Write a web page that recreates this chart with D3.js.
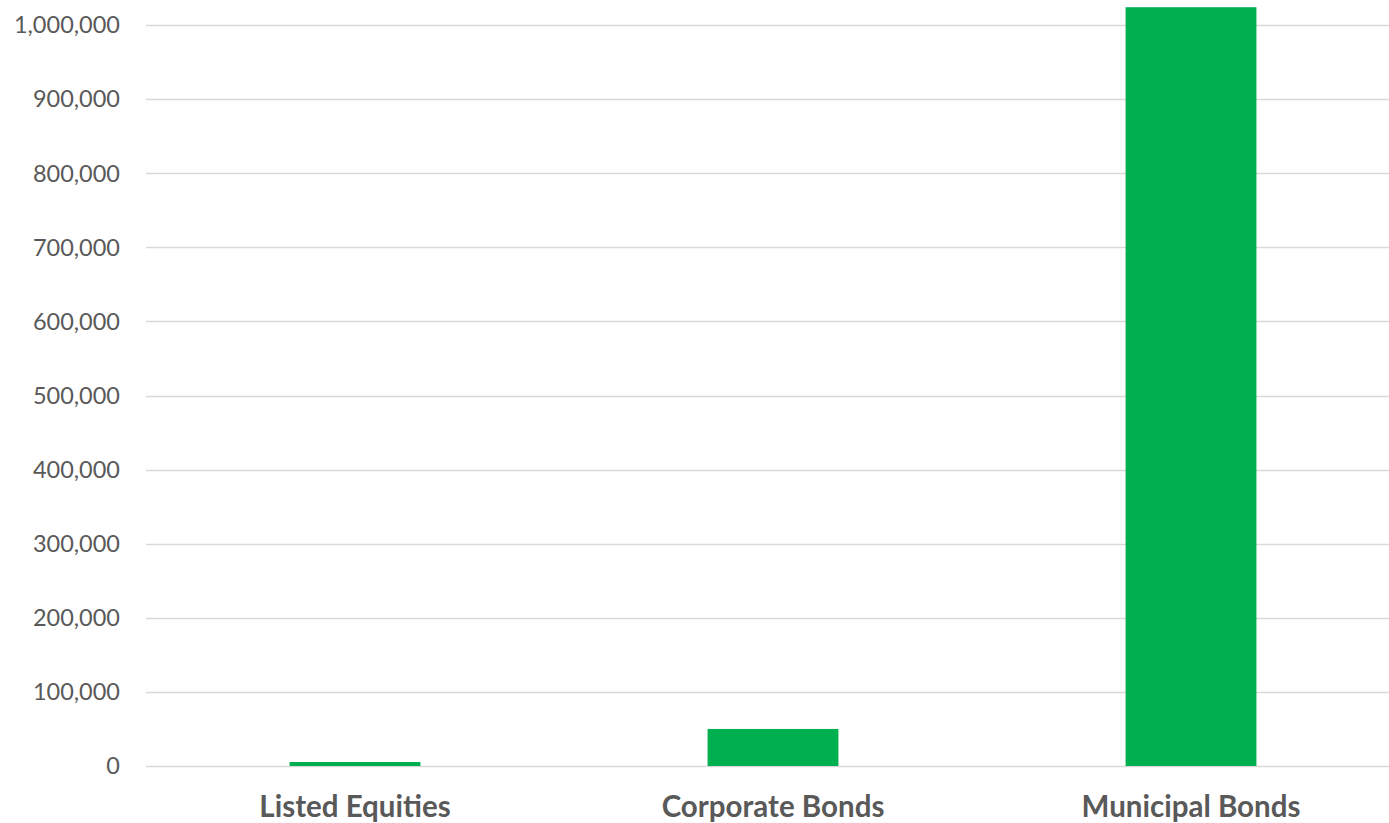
<!DOCTYPE html>
<html>
<head>
<meta charset="utf-8">
<script src="https://cdn.jsdelivr.net/npm/d3@7"></script>
<style>
  html, body { margin: 0; padding: 0; background: #ffffff; }
  svg { display: block; }
  .tick-label { font-family: "Lato", "Open Sans", sans-serif; fill: #595959; }
  .cat-label { font-family: "Lato", "Open Sans", sans-serif; fill: #595959; font-weight: bold; }
</style>
</head>
<body>
<svg id="chart" width="1389" height="823"></svg>
<script>
// Trading volume by asset class
const categories = ["Listed Equities", "Corporate Bonds", "Municipal Bonds"];
const values = [5400, 50000, 1024000];
const yTicks = [0, 100000, 200000, 300000, 400000, 500000, 600000, 700000, 800000, 900000, 1000000];

const svg = d3.select("#chart");

const x = d3.scaleBand()
  .domain(categories)
  .range([146, 1400])
  .paddingInner(0.687)
  .paddingOuter(0.3435);

const y = d3.scaleLinear()
  .domain([0, 1000000])
  .range([766, 25]);

const fmt = d3.format(",");

// Horizontal gridlines
svg.append("g")
  .selectAll("line")
  .data(yTicks)
  .join("line")
  .attr("x1", 146)
  .attr("x2", 1400)
  .attr("y1", d => Math.round(y(d)) + 0.5)
  .attr("y2", d => Math.round(y(d)) + 0.5)
  .attr("stroke", "#d9d9d9")
  .attr("stroke-width", 1.5);

// Y-axis labels
svg.append("g")
  .selectAll("text")
  .data(yTicks)
  .join("text")
  .attr("class", "tick-label")
  .attr("x", 120)
  .attr("y", d => y(d) + 8.3)
  .attr("text-anchor", "end")
  .attr("font-size", 23.5)
  .text(d => fmt(d));

// Bars
svg.append("g")
  .selectAll("rect")
  .data(categories)
  .join("rect")
  .attr("x", d => x(d))
  .attr("width", x.bandwidth())
  .attr("y", (d, i) => y(values[i]))
  .attr("height", (d, i) => y(0) - y(values[i]))
  .attr("fill", "#00b050");

// Category labels
svg.append("g")
  .selectAll("text")
  .data(categories)
  .join("text")
  .attr("class", "cat-label")
  .attr("x", d => x(d) + x.bandwidth() / 2)
  .attr("y", 817)
  .attr("text-anchor", "middle")
  .attr("font-size", 29.5)
  .text(d => d);
</script>
</body>
</html>
